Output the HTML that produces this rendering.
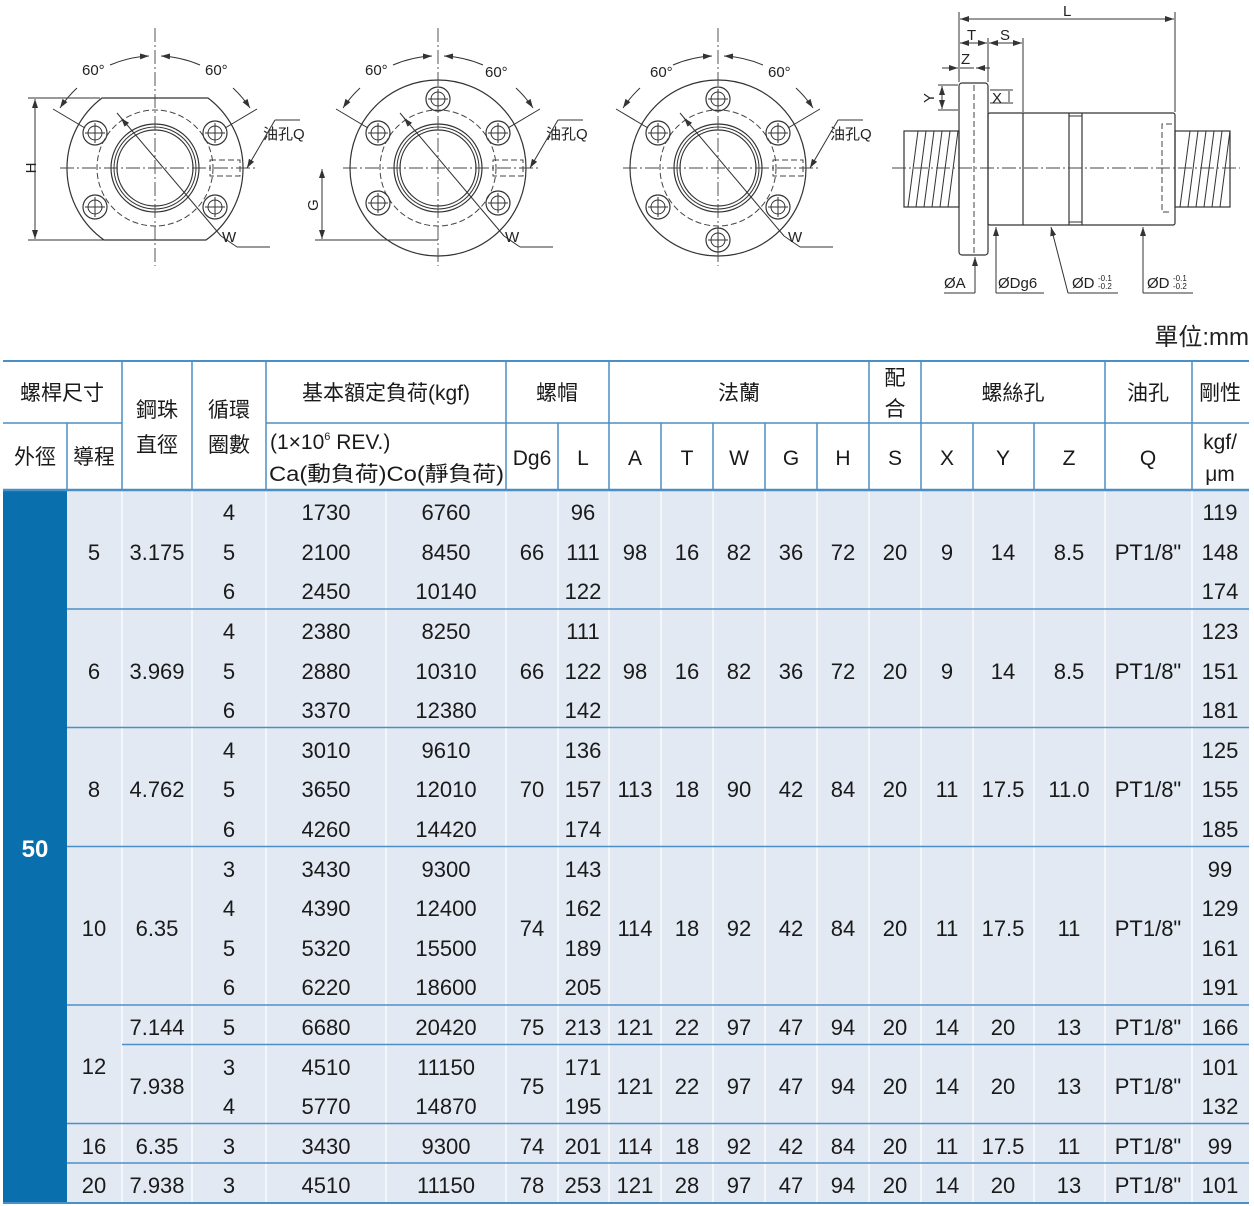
<!DOCTYPE html>
<html><head><meta charset="utf-8"><style>
html,body{margin:0;padding:0;background:#fff;}
svg{display:block;}
.t{font-family:"Liberation Sans","Noto Sans CJK TC",sans-serif;font-size:22px;fill:#1a1a1a;text-anchor:middle;}
.h{font-family:"Liberation Sans","Noto Sans CJK TC",sans-serif;font-size:21px;fill:#1a1a1a;text-anchor:middle;}
.d{font-family:"Liberation Sans","Noto Sans CJK TC",sans-serif;font-size:15px;fill:#222;}
.ln{stroke:#333;stroke-width:1.2;fill:none;}
.th{stroke:#333;stroke-width:1;fill:none;}
.ds{stroke:#444;stroke-width:1;fill:none;stroke-dasharray:6 3;}
.cl{stroke:#444;stroke-width:0.9;fill:none;stroke-dasharray:14 3 2 3;}
</style></head><body>
<svg width="1254" height="1206" viewBox="0 0 1254 1206" xmlns="http://www.w3.org/2000/svg">
<defs>
<marker id="ar" markerWidth="10" markerHeight="8" refX="9" refY="4" orient="auto-start-reverse" markerUnits="userSpaceOnUse"><path d="M0,1 L9,4 L0,7 Z" fill="#333"/></marker>
<g id="hole"><circle r="12" class="ln"/><circle r="7" class="th"/><line x1="-10" y1="0" x2="10" y2="0" class="th"/><line x1="0" y1="-10" x2="0" y2="10" class="th"/></g>
<g id="bore"><circle r="44" class="ln" stroke-width="1.6"/><circle r="41" class="th"/><circle r="38" class="ln"/><circle r="58" class="ds"/>
<rect x="55" y="-8" width="30" height="16" class="ds"/>
<line x1="-95" y1="0" x2="100" y2="0" class="cl"/><line x1="0" y1="-140" x2="0" y2="98" class="cl"/>
<path d="M-95,-60 A112,112 0 0 1 -78,-80" class="th" marker-start="url(#ar)"/>
<path d="M-45,-103 A112,112 0 0 1 -6,-112" class="th" marker-end="url(#ar)"/>
<path d="M6,-112 A112,112 0 0 1 45,-103" class="th" marker-start="url(#ar)"/>
<path d="M78,-80 A112,112 0 0 1 95,-60" class="th" marker-end="url(#ar)"/>
<line x1="-70" y1="-40" x2="-102" y2="-59" class="th"/><line x1="70" y1="-40" x2="102" y2="-59" class="th"/>
<line x1="-38" y1="-55" x2="66" y2="68" class="th"/><line x1="-28" y1="-43" x2="-34" y2="-50" class="th" marker-end="url(#ar)"/>
<line x1="66" y1="68" x2="82" y2="79" class="th"/><line x1="82" y1="79" x2="115" y2="79" class="th"/>
<line x1="92" y1="0" x2="120" y2="-48" class="th" marker-start="url(#ar)"/><line x1="120" y1="-48" x2="145" y2="-48" class="th"/>
</g>
</defs>

<!-- Drawing 1 -->
<g transform="translate(155,168)">
<path d="M-53,-70 L53,-70 A88,88 0 0 1 51,72 L-51,72 A88,88 0 0 1 -53,-70 Z" class="ln" stroke-width="1.5"/>
<use href="#bore"/>
<use href="#hole" x="-60" y="-35"/><use href="#hole" x="60" y="-35"/><use href="#hole" x="-60" y="39"/><use href="#hole" x="60" y="39"/>
</g>
<line x1="28" y1="98" x2="100" y2="98" class="th"/><line x1="28" y1="240" x2="104" y2="240" class="th"/>
<line x1="35" y1="99" x2="35" y2="239" class="th" marker-start="url(#ar)" marker-end="url(#ar)"/>
<text class="d" transform="translate(36,168) rotate(-90)" text-anchor="middle">H</text>
<text class="d" x="82" y="75">60°</text><text class="d" x="205" y="75">60°</text>
<text class="d" x="263" y="139">油孔Q</text><text class="d" x="222" y="242">W</text>

<!-- Drawing 2 -->
<g transform="translate(438,168)">
<circle r="88" class="ln" stroke-width="1.5"/>
<use href="#bore"/>
<use href="#hole" x="0" y="-69"/><use href="#hole" x="-60" y="-35"/><use href="#hole" x="60" y="-35"/><use href="#hole" x="-60" y="35"/><use href="#hole" x="60" y="35"/>
</g>
<line x1="315" y1="240" x2="438" y2="240" class="th"/>
<line x1="322" y1="169" x2="322" y2="239" class="th" marker-start="url(#ar)" marker-end="url(#ar)"/>
<text class="d" transform="translate(318,205) rotate(-90)" text-anchor="middle">G</text>
<text class="d" x="365" y="75">60°</text><text class="d" x="485" y="77">60°</text>
<text class="d" x="546" y="139">油孔Q</text><text class="d" x="505" y="242">W</text>

<!-- Drawing 3 -->
<g transform="translate(718,168)">
<circle r="88" class="ln" stroke-width="1.5"/>
<use href="#bore"/>
<use href="#hole" x="0" y="-69"/><use href="#hole" x="0" y="72"/><use href="#hole" x="-60" y="-35"/><use href="#hole" x="60" y="-35"/><use href="#hole" x="-60" y="39"/><use href="#hole" x="60" y="39"/>
</g>
<text class="d" x="650" y="77">60°</text><text class="d" x="768" y="77">60°</text>
<text class="d" x="830" y="139">油孔Q</text><text class="d" x="788" y="242">W</text>

<!-- Side view -->
<g>
<rect x="904" y="131" width="55" height="76" class="ln" fill="#c4c4c4"/>
<rect x="1175" y="131" width="55" height="76" class="ln" fill="#c4c4c4"/>
<g class="th">
<line x1="908" y1="207" x2="918" y2="131"/><line x1="916" y1="207" x2="926" y2="131"/><line x1="924" y1="207" x2="934" y2="131"/><line x1="932" y1="207" x2="942" y2="131"/><line x1="940" y1="207" x2="950" y2="131"/><line x1="948" y1="207" x2="958" y2="131"/>
<line x1="1180" y1="207" x2="1190" y2="131"/><line x1="1188" y1="207" x2="1198" y2="131"/><line x1="1196" y1="207" x2="1206" y2="131"/><line x1="1204" y1="207" x2="1214" y2="131"/><line x1="1212" y1="207" x2="1222" y2="131"/><line x1="1220" y1="207" x2="1230" y2="131"/>
</g>
<rect x="959" y="83" width="29" height="172" rx="3" class="ln" stroke-width="1.5" fill="#eee"/>
<rect x="988" y="113" width="187" height="112" rx="2" class="ln" stroke-width="1.5" fill="#f2f2f2"/>
<line x1="1023" y1="113" x2="1023" y2="225" class="ln"/>
<line x1="1069" y1="113" x2="1069" y2="225" class="ln"/><line x1="1082" y1="113" x2="1082" y2="225" class="ln"/>
<line x1="1069" y1="116" x2="1082" y2="116" class="th"/><line x1="1069" y1="222" x2="1082" y2="222" class="th"/>
<path d="M1172,124 H1162 V212 H1172" class="ds"/>
<line x1="974" y1="85" x2="974" y2="253" class="ds"/>
<line x1="892" y1="168" x2="1240" y2="168" class="cl"/>
<line x1="959" y1="12" x2="959" y2="82" class="th"/><line x1="1175" y1="12" x2="1175" y2="112" class="th"/>
<line x1="960" y1="19" x2="1174" y2="19" class="th" marker-start="url(#ar)" marker-end="url(#ar)"/>
<text class="d" x="1063" y="16">L</text>
<line x1="988" y1="38" x2="988" y2="82" class="th"/><line x1="1023" y1="38" x2="1023" y2="112" class="th"/>
<line x1="960" y1="43" x2="987" y2="43" class="th" marker-start="url(#ar)" marker-end="url(#ar)"/>
<line x1="989" y1="43" x2="1022" y2="43" class="th" marker-start="url(#ar)" marker-end="url(#ar)"/>
<text class="d" x="967" y="40">T</text><text class="d" x="1000" y="40">S</text>
<line x1="942" y1="68" x2="958" y2="68" class="th" marker-end="url(#ar)"/><line x1="990" y1="68" x2="976" y2="68" class="th" marker-end="url(#ar)"/>
<line x1="960" y1="68" x2="974" y2="68" class="th"/>
<text class="d" x="961" y="64">Z</text>
<line x1="938" y1="85" x2="958" y2="85" class="th"/><line x1="938" y1="110" x2="958" y2="110" class="th"/>
<line x1="942" y1="86" x2="942" y2="109" class="th" marker-start="url(#ar)" marker-end="url(#ar)"/>
<text class="d" transform="translate(934,98) rotate(-90)" text-anchor="middle">Y</text>
<line x1="990" y1="90" x2="1013" y2="90" class="th"/><line x1="990" y1="103" x2="1013" y2="103" class="th"/>
<line x1="1009" y1="91" x2="1009" y2="102" class="th"/>
<text class="d" x="992" y="103">X</text>
<line x1="975" y1="293" x2="975" y2="257" class="th" marker-end="url(#ar)"/><line x1="944" y1="293" x2="975" y2="293" class="th"/>
<text class="d" x="944" y="288">ØA</text>
<line x1="996" y1="293" x2="996" y2="227" class="th" marker-end="url(#ar)"/><line x1="996" y1="293" x2="1044" y2="293" class="th"/>
<text class="d" x="998" y="288">ØDg6</text>
<line x1="1068" y1="293" x2="1051" y2="227" class="th" marker-end="url(#ar)"/><line x1="1068" y1="293" x2="1118" y2="293" class="th"/>
<text class="d" x="1072" y="288">ØD</text><text x="1098" y="281" style="font-family:'Liberation Sans',sans-serif;font-size:8px;fill:#222">-0.1</text><text x="1098" y="289" style="font-family:'Liberation Sans',sans-serif;font-size:8px;fill:#222">-0.2</text>
<line x1="1143" y1="293" x2="1143" y2="227" class="th" marker-end="url(#ar)"/><line x1="1143" y1="293" x2="1193" y2="293" class="th"/>
<text class="d" x="1147" y="288">ØD</text><text x="1173" y="281" style="font-family:'Liberation Sans',sans-serif;font-size:8px;fill:#222">-0.1</text><text x="1173" y="289" style="font-family:'Liberation Sans',sans-serif;font-size:8px;fill:#222">-0.2</text>
</g>

<text x="1249" y="345" style="font-family:'Liberation Sans','Noto Sans CJK TC',sans-serif;font-size:24px;fill:#222;text-anchor:end">單位:mm</text>

<!-- Table -->
<rect x="67" y="490" width="1182" height="713" fill="#e2e9f2"/>
<rect x="3" y="490" width="64" height="713" fill="#0a6fad"/>
<text x="35" y="857" style="font-family:'Liberation Sans',sans-serif;font-size:24px;font-weight:bold;fill:#fff;text-anchor:middle">50</text>
<g stroke="#fff" stroke-width="1.2">
<line x1="122" y1="490" x2="122" y2="1203"/><line x1="192" y1="490" x2="192" y2="1203"/><line x1="266" y1="490" x2="266" y2="1203"/><line x1="386" y1="490" x2="386" y2="1203"/><line x1="506" y1="490" x2="506" y2="1203"/><line x1="558" y1="490" x2="558" y2="1203"/><line x1="609" y1="490" x2="609" y2="1203"/><line x1="661" y1="490" x2="661" y2="1203"/><line x1="713" y1="490" x2="713" y2="1203"/><line x1="765" y1="490" x2="765" y2="1203"/><line x1="817" y1="490" x2="817" y2="1203"/><line x1="869" y1="490" x2="869" y2="1203"/><line x1="921" y1="490" x2="921" y2="1203"/><line x1="973" y1="490" x2="973" y2="1203"/><line x1="1034" y1="490" x2="1034" y2="1203"/><line x1="1105" y1="490" x2="1105" y2="1203"/><line x1="1192" y1="490" x2="1192" y2="1203"/>
</g>
<g stroke="#4a8fc6" stroke-width="1.6">
<line x1="67" y1="609" x2="1249" y2="609"/><line x1="67" y1="727.5" x2="1249" y2="727.5"/><line x1="67" y1="846.5" x2="1249" y2="846.5"/><line x1="67" y1="1005" x2="1249" y2="1005"/><line x1="122" y1="1044.5" x2="1249" y2="1044.5"/><line x1="67" y1="1123.5" x2="1249" y2="1123.5"/><line x1="67" y1="1163" x2="1249" y2="1163"/>
<line x1="3" y1="1203" x2="1249" y2="1203" stroke-width="2"/>
</g>
<g stroke="#4a8fc6" stroke-width="1.5">
<line x1="3" y1="361" x2="1249" y2="361" stroke-width="2"/>
<line x1="3" y1="490" x2="1249" y2="490" stroke-width="2.5"/>
<line x1="3" y1="423" x2="122" y2="423"/><line x1="266" y1="423" x2="1249" y2="423"/>
<line x1="122" y1="361" x2="122" y2="490"/><line x1="192" y1="361" x2="192" y2="490"/><line x1="266" y1="361" x2="266" y2="490"/><line x1="67" y1="423" x2="67" y2="490"/>
<line x1="506" y1="361" x2="506" y2="490"/><line x1="558" y1="423" x2="558" y2="490"/><line x1="609" y1="361" x2="609" y2="490"/>
<line x1="661" y1="423" x2="661" y2="490"/><line x1="713" y1="423" x2="713" y2="490"/><line x1="765" y1="423" x2="765" y2="490"/><line x1="817" y1="423" x2="817" y2="490"/>
<line x1="869" y1="361" x2="869" y2="490"/><line x1="921" y1="361" x2="921" y2="490"/><line x1="973" y1="423" x2="973" y2="490"/><line x1="1034" y1="423" x2="1034" y2="490"/>
<line x1="1105" y1="361" x2="1105" y2="490"/><line x1="1192" y1="361" x2="1192" y2="490"/>
</g>
<g class="h">
<text x="62" y="400">螺桿尺寸</text>
<text x="157" y="417">鋼珠</text><text x="157" y="452">直徑</text>
<text x="229" y="417">循環</text><text x="229" y="452">圈數</text>
<text x="386" y="400">基本額定負荷(kgf)</text>
<text x="557" y="400">螺帽</text>
<text x="739" y="400">法蘭</text>
<text x="895" y="385">配</text><text x="895" y="416">合</text>
<text x="1013" y="400">螺絲孔</text>
<text x="1148" y="400">油孔</text>
<text x="1220" y="400">剛性</text>
<text x="35" y="464">外徑</text><text x="94" y="464">導程</text>
<text x="270" y="449" style="text-anchor:start">(1×10<tspan font-size="11" dy="-9">6</tspan><tspan dy="9"> REV.)</tspan></text>
<text x="269" y="481" style="text-anchor:start" textLength="235" lengthAdjust="spacingAndGlyphs">Ca(動負荷)Co(靜負荷)</text>
<text x="532" y="465">Dg6</text><text x="583" y="465">L</text>
<text x="635" y="465">A</text><text x="687" y="465">T</text><text x="739" y="465">W</text><text x="791" y="465">G</text><text x="843" y="465">H</text><text x="895" y="465">S</text><text x="947" y="465">X</text><text x="1003" y="465">Y</text><text x="1069" y="465">Z</text><text x="1148" y="465">Q</text>
<text x="1220" y="449">kgf/</text><text x="1220" y="481">μm</text>
</g>
<g class="t">
<text x="94" y="560">5</text><text x="157" y="560">3.175</text>
<text x="229" y="520">4</text><text x="229" y="560">5</text><text x="229" y="599">6</text>
<text x="326" y="520">1730</text><text x="326" y="560">2100</text><text x="326" y="599">2450</text>
<text x="446" y="520">6760</text><text x="446" y="560">8450</text><text x="446" y="599">10140</text>
<text x="532" y="560">66</text>
<text x="583" y="520">96</text><text x="583" y="560">111</text><text x="583" y="599">122</text>
<text x="635" y="560">98</text><text x="687" y="560">16</text><text x="739" y="560">82</text><text x="791" y="560">36</text><text x="843" y="560">72</text><text x="895" y="560">20</text><text x="947" y="560">9</text><text x="1003" y="560">14</text><text x="1069" y="560">8.5</text><text x="1148" y="560">PT1/8"</text>
<text x="1220" y="520">119</text><text x="1220" y="560">148</text><text x="1220" y="599">174</text>
<text x="94" y="679">6</text><text x="157" y="679">3.969</text>
<text x="229" y="639">4</text><text x="229" y="679">5</text><text x="229" y="718">6</text>
<text x="326" y="639">2380</text><text x="326" y="679">2880</text><text x="326" y="718">3370</text>
<text x="446" y="639">8250</text><text x="446" y="679">10310</text><text x="446" y="718">12380</text>
<text x="532" y="679">66</text>
<text x="583" y="639">111</text><text x="583" y="679">122</text><text x="583" y="718">142</text>
<text x="635" y="679">98</text><text x="687" y="679">16</text><text x="739" y="679">82</text><text x="791" y="679">36</text><text x="843" y="679">72</text><text x="895" y="679">20</text><text x="947" y="679">9</text><text x="1003" y="679">14</text><text x="1069" y="679">8.5</text><text x="1148" y="679">PT1/8"</text>
<text x="1220" y="639">123</text><text x="1220" y="679">151</text><text x="1220" y="718">181</text>
<text x="94" y="797">8</text><text x="157" y="797">4.762</text>
<text x="229" y="758">4</text><text x="229" y="797">5</text><text x="229" y="837">6</text>
<text x="326" y="758">3010</text><text x="326" y="797">3650</text><text x="326" y="837">4260</text>
<text x="446" y="758">9610</text><text x="446" y="797">12010</text><text x="446" y="837">14420</text>
<text x="532" y="797">70</text>
<text x="583" y="758">136</text><text x="583" y="797">157</text><text x="583" y="837">174</text>
<text x="635" y="797">113</text><text x="687" y="797">18</text><text x="739" y="797">90</text><text x="791" y="797">42</text><text x="843" y="797">84</text><text x="895" y="797">20</text><text x="947" y="797">11</text><text x="1003" y="797">17.5</text><text x="1069" y="797">11.0</text><text x="1148" y="797">PT1/8"</text>
<text x="1220" y="758">125</text><text x="1220" y="797">155</text><text x="1220" y="837">185</text>
<text x="94" y="936">10</text><text x="157" y="936">6.35</text>
<text x="229" y="877">3</text><text x="229" y="916">4</text><text x="229" y="956">5</text><text x="229" y="995">6</text>
<text x="326" y="877">3430</text><text x="326" y="916">4390</text><text x="326" y="956">5320</text><text x="326" y="995">6220</text>
<text x="446" y="877">9300</text><text x="446" y="916">12400</text><text x="446" y="956">15500</text><text x="446" y="995">18600</text>
<text x="532" y="936">74</text>
<text x="583" y="877">143</text><text x="583" y="916">162</text><text x="583" y="956">189</text><text x="583" y="995">205</text>
<text x="635" y="936">114</text><text x="687" y="936">18</text><text x="739" y="936">92</text><text x="791" y="936">42</text><text x="843" y="936">84</text><text x="895" y="936">20</text><text x="947" y="936">11</text><text x="1003" y="936">17.5</text><text x="1069" y="936">11</text><text x="1148" y="936">PT1/8"</text>
<text x="1220" y="877">99</text><text x="1220" y="916">129</text><text x="1220" y="956">161</text><text x="1220" y="995">191</text>
<text x="94" y="1074">12</text>
<text x="157" y="1035">7.144</text><text x="229" y="1035">5</text><text x="326" y="1035">6680</text><text x="446" y="1035">20420</text><text x="532" y="1035">75</text><text x="583" y="1035">213</text>
<text x="635" y="1035">121</text><text x="687" y="1035">22</text><text x="739" y="1035">97</text><text x="791" y="1035">47</text><text x="843" y="1035">94</text><text x="895" y="1035">20</text><text x="947" y="1035">14</text><text x="1003" y="1035">20</text><text x="1069" y="1035">13</text><text x="1148" y="1035">PT1/8"</text><text x="1220" y="1035">166</text>
<text x="157" y="1094">7.938</text>
<text x="229" y="1075">3</text><text x="229" y="1114">4</text>
<text x="326" y="1075">4510</text><text x="326" y="1114">5770</text>
<text x="446" y="1075">11150</text><text x="446" y="1114">14870</text>
<text x="532" y="1094">75</text>
<text x="583" y="1075">171</text><text x="583" y="1114">195</text>
<text x="635" y="1094">121</text><text x="687" y="1094">22</text><text x="739" y="1094">97</text><text x="791" y="1094">47</text><text x="843" y="1094">94</text><text x="895" y="1094">20</text><text x="947" y="1094">14</text><text x="1003" y="1094">20</text><text x="1069" y="1094">13</text><text x="1148" y="1094">PT1/8"</text>
<text x="1220" y="1075">101</text><text x="1220" y="1114">132</text>
<text x="94" y="1154">16</text><text x="157" y="1154">6.35</text><text x="229" y="1154">3</text><text x="326" y="1154">3430</text><text x="446" y="1154">9300</text><text x="532" y="1154">74</text><text x="583" y="1154">201</text>
<text x="635" y="1154">114</text><text x="687" y="1154">18</text><text x="739" y="1154">92</text><text x="791" y="1154">42</text><text x="843" y="1154">84</text><text x="895" y="1154">20</text><text x="947" y="1154">11</text><text x="1003" y="1154">17.5</text><text x="1069" y="1154">11</text><text x="1148" y="1154">PT1/8"</text><text x="1220" y="1154">99</text>
<text x="94" y="1193">20</text><text x="157" y="1193">7.938</text><text x="229" y="1193">3</text><text x="326" y="1193">4510</text><text x="446" y="1193">11150</text><text x="532" y="1193">78</text><text x="583" y="1193">253</text>
<text x="635" y="1193">121</text><text x="687" y="1193">28</text><text x="739" y="1193">97</text><text x="791" y="1193">47</text><text x="843" y="1193">94</text><text x="895" y="1193">20</text><text x="947" y="1193">14</text><text x="1003" y="1193">20</text><text x="1069" y="1193">13</text><text x="1148" y="1193">PT1/8"</text><text x="1220" y="1193">101</text>
</g>
</svg>
</body></html>
